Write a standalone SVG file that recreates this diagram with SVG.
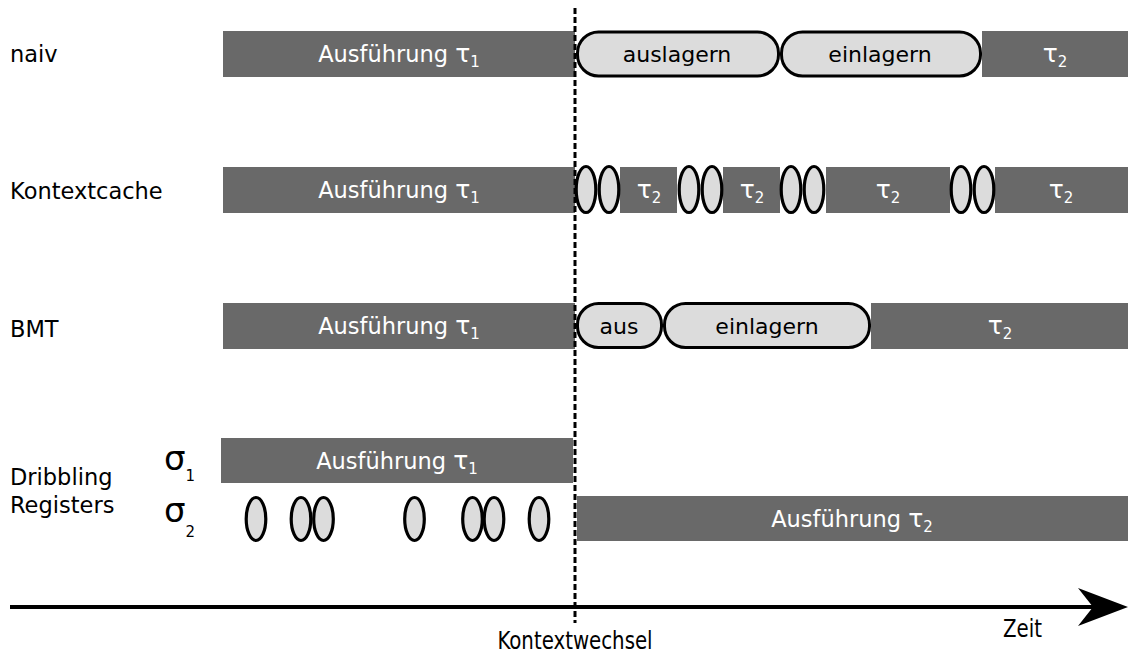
<svg xmlns="http://www.w3.org/2000/svg" width="1128" height="657" viewBox="0 0 1128 657">
  <style>
    .bar { fill: #696969; }
    .box { fill: #dcdcdc; stroke: #000; stroke-width: 3; }
    .reg { fill: #dcdcdc; stroke: #000; stroke-width: 3.2; }
    .lbl { font-family: "DejaVu Sans", sans-serif; font-size: 22.5px; fill: #000; }
    .bt { font-family: "DejaVu Sans", sans-serif; font-size: 22.5px; fill: #fff; text-anchor: middle; }
    .bk { font-family: "DejaVu Sans", sans-serif; font-size: 22px; fill: #000; text-anchor: middle; }
    .tau { font-size: 25px; }
    .sub { font-size: 15px; }
    .sig { font-family: "DejaVu Sans", sans-serif; font-size: 34px; fill: #000; }
    .sigsub { font-size: 15px; }
    .ax { font-family: "DejaVu Sans Condensed", "DejaVu Sans", sans-serif; font-stretch: condensed; font-size: 22px; fill: #000; }
  </style>

  <!-- row labels -->
  <g id="labels">
    <text class="lbl" x="10" y="62">naiv</text>
    <text class="lbl" x="10" y="199">Kontextcache</text>
    <text class="lbl" x="10" y="337">BMT</text>
    <text class="lbl" x="10" y="485">Dribbling</text>
    <text class="lbl" x="10" y="513">Registers</text>
    <text class="sig" x="164" y="470">σ<tspan class="sigsub" dy="11">1</tspan></text>
    <text class="sig" x="164" y="522">σ<tspan class="sigsub" dy="15">2</tspan></text>
  </g>

  <!-- naive switch -->
  <g id="naiv-exec1">
    <rect class="bar" x="223" y="31" width="352" height="46"/>
    <text class="bt" x="399" y="62">Ausführung <tspan class="tau">τ</tspan><tspan class="sub" dy="5">1</tspan></text>
  </g>
  <g id="naiv-aus">
    <rect class="box" x="577.5" y="32" width="201" height="44" rx="21"/>
    <text class="bk" x="677" y="62">auslagern</text>
  </g>
  <g id="naiv-ein">
    <rect class="box" x="781.5" y="32" width="199" height="44" rx="21"/>
    <text class="bk" x="880" y="62">einlagern</text>
  </g>
  <g id="naiv-exec2">
    <rect class="bar" x="982" y="31" width="146" height="46"/>
    <text class="bt" x="1055" y="62"><tspan class="tau">τ</tspan><tspan class="sub" dy="5">2</tspan></text>
  </g>

  <!-- context cache -->
  <g id="cache-exec1">
    <rect class="bar" x="223" y="167" width="352" height="46"/>
    <text class="bt" x="399" y="198">Ausführung <tspan class="tau">τ</tspan><tspan class="sub" dy="5">1</tspan></text>
  </g>
  <g id="cache-exec2">
    <rect class="bar" x="620" y="167" width="57" height="46"/>
    <text class="bt" x="649" y="198"><tspan class="tau">τ</tspan><tspan class="sub" dy="5">2</tspan></text>
    <rect class="bar" x="723" y="167" width="57" height="46"/>
    <text class="bt" x="752" y="198"><tspan class="tau">τ</tspan><tspan class="sub" dy="5">2</tspan></text>
    <rect class="bar" x="826" y="167" width="124" height="46"/>
    <text class="bt" x="888" y="198"><tspan class="tau">τ</tspan><tspan class="sub" dy="5">2</tspan></text>
    <rect class="bar" x="995" y="167" width="133" height="46"/>
    <text class="bt" x="1061" y="198"><tspan class="tau">τ</tspan><tspan class="sub" dy="5">2</tspan></text>
  </g>
  <g id="cache-regs">
    <ellipse class="reg" cx="586" cy="189.5" rx="9.8" ry="23"/>
    <ellipse class="reg" cx="609" cy="189.5" rx="9.8" ry="23"/>
    <ellipse class="reg" cx="689" cy="189.5" rx="9.8" ry="23"/>
    <ellipse class="reg" cx="712" cy="189.5" rx="9.8" ry="23"/>
    <ellipse class="reg" cx="791" cy="189.5" rx="9.8" ry="23"/>
    <ellipse class="reg" cx="814" cy="189.5" rx="9.8" ry="23"/>
    <ellipse class="reg" cx="961" cy="189.5" rx="9.8" ry="23"/>
    <ellipse class="reg" cx="984" cy="189.5" rx="9.8" ry="23"/>
  </g>

  <!-- BMT -->
  <g id="bmt-exec1">
    <rect class="bar" x="223" y="303" width="352" height="46"/>
    <text class="bt" x="399" y="334">Ausführung <tspan class="tau">τ</tspan><tspan class="sub" dy="5">1</tspan></text>
  </g>
  <g id="bmt-aus">
    <rect class="box" x="577.5" y="303.5" width="84" height="44" rx="21"/>
    <text class="bk" x="619" y="334">aus</text>
  </g>
  <g id="bmt-ein">
    <rect class="box" x="664.5" y="303.5" width="205" height="44" rx="21"/>
    <text class="bk" x="767" y="334">einlagern</text>
  </g>
  <g id="bmt-exec2">
    <rect class="bar" x="871" y="303" width="257" height="46"/>
    <text class="bt" x="1000" y="334"><tspan class="tau">τ</tspan><tspan class="sub" dy="5">2</tspan></text>
  </g>

  <!-- dribbling registers -->
  <g id="drib-exec1">
    <rect class="bar" x="221" y="438" width="352" height="45"/>
    <text class="bt" x="397" y="469">Ausführung <tspan class="tau">τ</tspan><tspan class="sub" dy="5">1</tspan></text>
  </g>
  <g id="drib-regs">
    <ellipse class="reg" cx="256" cy="519" rx="9.8" ry="21.5"/>
    <ellipse class="reg" cx="301" cy="519" rx="9.8" ry="21.5"/>
    <ellipse class="reg" cx="323.5" cy="519" rx="9.8" ry="21.5"/>
    <ellipse class="reg" cx="414.5" cy="519" rx="9.8" ry="21.5"/>
    <ellipse class="reg" cx="472.5" cy="519" rx="9.8" ry="21.5"/>
    <ellipse class="reg" cx="494" cy="519" rx="9.8" ry="21.5"/>
    <ellipse class="reg" cx="539" cy="519" rx="9.8" ry="21.5"/>
  </g>
  <g id="drib-exec2">
    <rect class="bar" x="577" y="496" width="551" height="45"/>
    <text class="bt" x="852" y="527">Ausführung <tspan class="tau">τ</tspan><tspan class="sub" dy="5">2</tspan></text>
  </g>

  <!-- time axis and switch marker -->
  <g id="connectors">
    <line x1="575" y1="8" x2="575" y2="623" stroke="#000" stroke-width="3" stroke-dasharray="6 3"/>
    <line x1="10" y1="607" x2="1095" y2="607" stroke="#000" stroke-width="4"/>
    <polygon points="1128,607 1078,588 1093,607 1078,626" fill="#000"/>
  </g>
  <g id="axis-labels">
    <text class="ax" transform="translate(575,649) scale(1,1.15)" text-anchor="middle">Kontextwechsel</text>
    <text class="ax" transform="translate(1003,637) scale(1,1.15)">Zeit</text>
  </g>
</svg>
